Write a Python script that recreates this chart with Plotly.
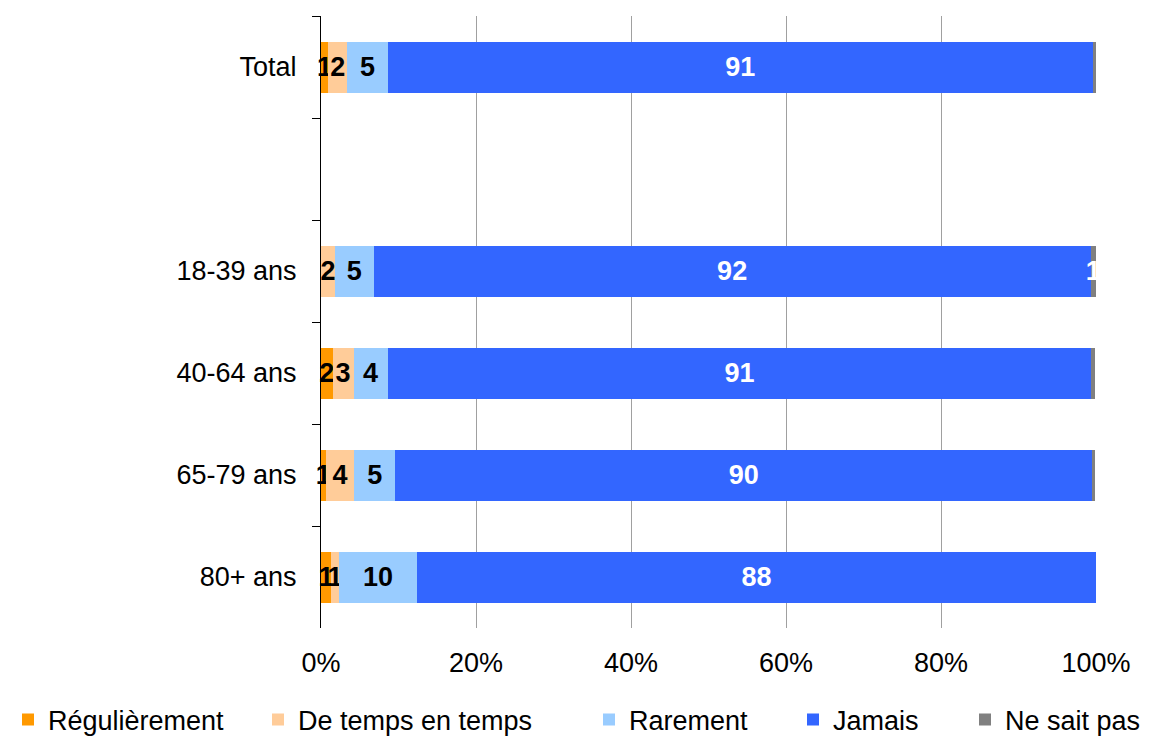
import plotly.graph_objects as go

categories = ["Total", " ", "18-39 ans", "40-64 ans", "65-79 ans", "80+ ans"]

# shares in %
regulierement = [0.9, None, 0.0, 1.5, 0.6, 1.3]
de_temps = [2.5, None, 1.8, 2.7, 3.7, 1.0]
rarement = [5.2, None, 5.0, 4.4, 5.3, 10.1]
jamais = [91.0, None, 92.5, 90.8, 89.9, 87.6]
ne_sait_pas = [0.5, None, 0.7, 0.5, 0.4, 0.0]

# labels shown on the bars
lab_regulierement = ["1", "", "", "2", "1", "1"]
lab_de_temps = ["2", "", "2", "3", "4", "1"]
lab_rarement = ["5", "", "5", "4", "5", "10"]
lab_jamais = ["91", "", "92", "91", "90", "88"]
lab_ne_sait_pas = ["", "", "1", "", "", ""]

FONT = "Liberation Sans, Arial, sans-serif"
FS = 27
ML, PW = 313, 775  # left margin and plot width, px

series = [
    ("Régulièrement", regulierement, lab_regulierement, "#FF9900", "black"),
    ("De temps en temps", de_temps, lab_de_temps, "#FFCC99", "black"),
    ("Rarement", rarement, lab_rarement, "#99CCFF", "black"),
    ("Jamais", jamais, lab_jamais, "#3366FF", "white"),
    ("Ne sait pas", ne_sait_pas, lab_ne_sait_pas, "#808080", "white"),
]
# one legend per entry so each sits where the original has it (px from left)
legend_x = [-16, 250, 581, 785, 957]

fig = go.Figure()
legends = {}
for i, (name, vals, labs, color, tcolor) in enumerate(series):
    lg = "legend" if i == 0 else f"legend{i + 1}"
    fig.add_trace(go.Bar(
        y=categories, x=vals, name=name, orientation="h",
        marker=dict(color=color, line=dict(width=0)),
        text=labs, textposition="inside", insidetextanchor="middle",
        textangle=0, cliponaxis=False, legend=lg,
        textfont=dict(family=FONT, size=FS, color=tcolor, weight="bold"),
    ))
    legends[lg] = dict(
        orientation="h", x=(legend_x[i] - ML) / PW, xanchor="left", xref="paper",
        y=25 / 737, yanchor="middle", yref="container",
        font=dict(family=FONT, size=FS, color="black"), itemwidth=30,
        bgcolor="rgba(0,0,0,0)",
    )

fig.update_layout(
    barmode="stack",
    bargap=0.5,
    width=1155, height=737,
    margin=dict(l=ML, r=1155 - ML - PW, t=8, b=117),
    plot_bgcolor="white", paper_bgcolor="white",
    font=dict(family=FONT, size=FS, color="black"),
    uniformtext=dict(minsize=FS, mode="show"),
    showlegend=True,
    **legends,
)
fig.update_xaxes(
    range=[0, 100], tickvals=[0, 20, 40, 60, 80, 100],
    ticktext=["0%", "20%", "40%", "60%", "80%", "100%"],
    showgrid=True, gridcolor="#A0A0A0", gridwidth=1,
    zeroline=False, showline=False, ticks="", ticklabelstandoff=16,
    automargin=False,
)
fig.update_yaxes(
    type="category", autorange="reversed",
    tickson="boundaries", ticks="outside", ticklen=8, tickcolor="black",
    showline=True, linecolor="black", linewidth=1,
    showgrid=False, zeroline=False, ticklabelstandoff=18,
    automargin=False,
)

fig.write_html("out.html")
